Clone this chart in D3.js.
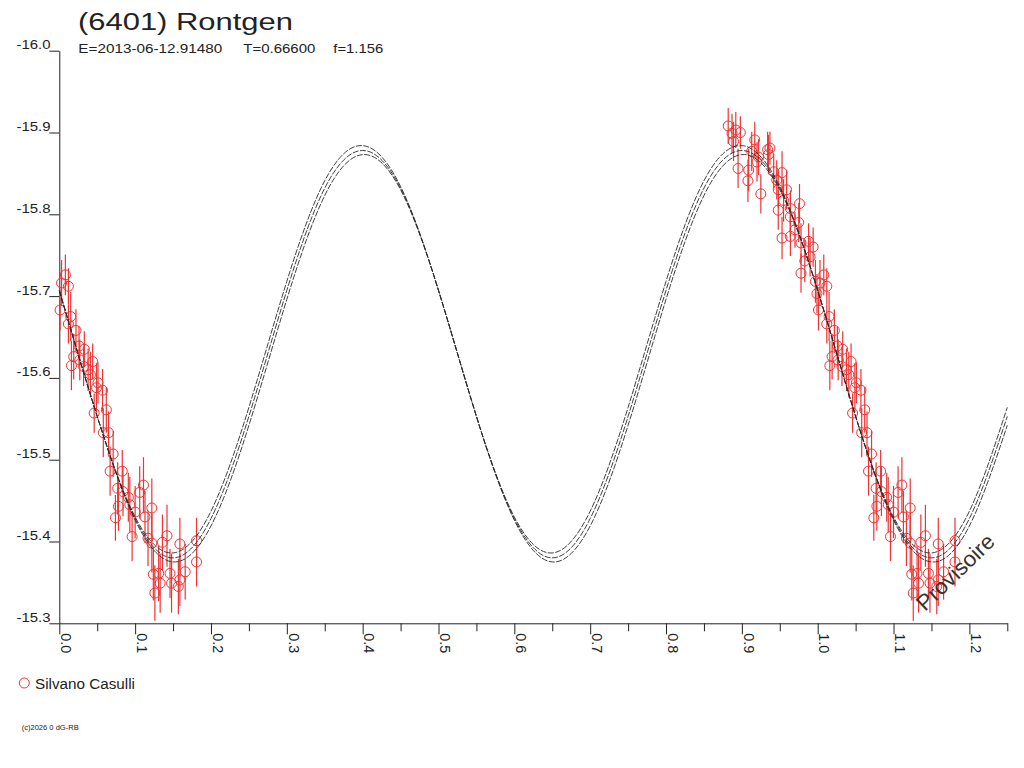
<!DOCTYPE html>
<html>
<head>
<meta charset="utf-8">
<script src="https://cdn.jsdelivr.net/npm/d3@7"></script>
<style>
  html, body { margin: 0; padding: 0; background: #fff; }
  svg { display: block; font-family: "Liberation Sans", Arial, sans-serif; }
</style>
</head>
<body>
<script>
// ---------- DATA ----------
const titleText = "(6401) Rontgen";
const subtitleParts = ["E=2013-06-12.91480", "T=0.66600", "f=1.156"];
const observerName = "Silvano Casulli";
const watermarkText = "Provisoire";
const copyrightText = "(c)2026 0 dG-RB";

// observed phases, magnitudes and errors (phase-folded, repeated at phase+1)
const obsPhase = [
  0.008, 0.003, 0.012, 0.001, 0.015, 0.012, 0.022, 0.026, 0.033, 0.019,
  0.016, 0.027, 0.032, 0.044, 0.038, 0.041, 0.051, 0.057, 0.049, 0.062,
  0.046, 0.058, 0.065, 0.071, 0.067, 0.083, 0.077, 0.084, 0.111, 0.106,
  0.091, 0.078, 0.093, 0.100, 0.122, 0.074, 0.113, 0.096, 0.117, 0.122,
  0.142, 0.136, 0.159, 0.181, 0.181, 0.124, 0.131, 0.133, 0.126, 0.148,
  0.159, 0.166, 0.146, 0.157,
  0.882, 0.887, 0.892, 0.898, 0.889, 0.917, 0.913, 0.934, 0.937, 0.935,
  0.922, 0.895, 0.909, 0.920, 0.908, 0.925, 0.942, 0.953, 0.946, 0.948,
  0.959, 0.955, 0.948, 0.964, 0.976, 0.964, 0.975, 0.970, 0.953, 0.964,
  0.978, 0.988, 0.994, 0.983, 0.990, 0.978, 0.997, 0.999
];
const obsMag = [
  -15.726, -15.716, -15.712, -15.683, -15.675, -15.666, -15.658, -15.639, -15.635, -15.626,
  -15.615, -15.622, -15.614, -15.620, -15.610, -15.604, -15.594, -15.585, -15.588, -15.561,
  -15.557, -15.533, -15.533, -15.507, -15.486, -15.486, -15.465, -15.461, -15.469, -15.460,
  -15.454, -15.443, -15.445, -15.436, -15.441, -15.429, -15.430, -15.406, -15.404, -15.398,
  -15.407, -15.399, -15.397, -15.401, -15.375, -15.360, -15.361, -15.349, -15.337, -15.349,
  -15.353, -15.363, -15.361, -15.345,
  -15.908, -15.899, -15.903, -15.900, -15.889, -15.891, -15.877, -15.879, -15.881, -15.873,
  -15.870, -15.856, -15.854, -15.864, -15.841, -15.825, -15.852, -15.851, -15.842, -15.830,
  -15.830, -15.817, -15.805, -15.807, -15.813, -15.797, -15.790, -15.781, -15.771, -15.773,
  -15.765, -15.767, -15.760, -15.743, -15.748, -15.728, -15.718, -15.703
];
const obsErr = [
  0.025, 0.028, 0.022, 0.025, 0.030, 0.024, 0.026, 0.024, 0.022, 0.028,
  0.030, 0.025, 0.024, 0.022, 0.026, 0.028, 0.025, 0.026, 0.030, 0.028,
  0.024, 0.030, 0.026, 0.028, 0.030, 0.026, 0.032, 0.030, 0.034, 0.032,
  0.030, 0.030, 0.034, 0.032, 0.036, 0.028, 0.032, 0.030, 0.034, 0.036,
  0.038, 0.034, 0.032, 0.028, 0.030, 0.032, 0.034, 0.036, 0.034, 0.036,
  0.032, 0.034, 0.030, 0.034,
  0.022, 0.024, 0.022, 0.020, 0.024, 0.022, 0.024, 0.022, 0.020, 0.024,
  0.022, 0.024, 0.026, 0.024, 0.026, 0.024, 0.022, 0.026, 0.024, 0.022,
  0.024, 0.026, 0.024, 0.022, 0.024, 0.026, 0.024, 0.022, 0.026, 0.024,
  0.024, 0.022, 0.024, 0.026, 0.024, 0.024, 0.026, 0.024
];

const curvePhase = [0.00,0.05,0.10,0.15,0.20,0.25,0.30,0.35,0.40,0.45,0.50,0.55,0.60,
                    0.65,0.70,0.75,0.80,0.85,0.90,0.95,1.00,1.05,1.10,1.15,1.20,1.25];
const curveMid = [-15.707,-15.553,-15.428,-15.380,-15.428,-15.553,-15.707,-15.832,-15.878,-15.832,
                  -15.707,-15.553,-15.428,-15.380,-15.428,-15.553,-15.707,-15.832,-15.878,-15.832,
                  -15.707,-15.553,-15.428,-15.380,-15.428,-15.553];
const curveUpper = [-15.707,-15.553,-15.430,-15.386,-15.437,-15.564,-15.718,-15.841,-15.884,-15.834,
                    -15.707,-15.553,-15.430,-15.386,-15.437,-15.564,-15.718,-15.841,-15.884,-15.834,
                    -15.707,-15.553,-15.430,-15.386,-15.437,-15.564];
const curveLower = [-15.707,-15.553,-15.426,-15.375,-15.419,-15.542,-15.696,-15.823,-15.873,-15.830,
                    -15.707,-15.553,-15.426,-15.375,-15.419,-15.542,-15.696,-15.823,-15.873,-15.830,
                    -15.707,-15.553,-15.426,-15.375,-15.419,-15.542];

// axis ticks
const xMajorTicks = [0.0,0.1,0.2,0.3,0.4,0.5,0.6,0.7,0.8,0.9,1.0,1.1,1.2];
const xMajorLabels = ["0.0","0.1","0.2","0.3","0.4","0.5","0.6","0.7","0.8","0.9","1.0","1.1","1.2"];
const xMinorTicks = [0.05,0.15,0.25,0.35,0.45,0.55,0.65,0.75,0.85,0.95,1.05,1.15,1.25];
const yTicks = [-16.0,-15.9,-15.8,-15.7,-15.6,-15.5,-15.4,-15.3];
const yTickLabels = ["-16.0","-15.9","-15.8","-15.7","-15.6","-15.5","-15.4","-15.3"];

// ---------- DRAW ----------
const W = 1024, H = 768;
const red = "#ee3434", ink = "#222";
const svg = d3.select("body").append("svg").attr("width", W).attr("height", H);

const x = d3.scaleLinear().domain([0, 1.25]).range([59.3, 1007.3]);
const y = d3.scaleLinear().domain([-16.0, -15.3]).range([50.7, 623.3]);

// title
svg.append("text").attr("x", 78).attr("y", 30)
  .attr("font-size", 23).attr("fill", ink)
  .attr("textLength", 215).attr("lengthAdjust", "spacingAndGlyphs")
  .text(titleText);

const subX = [78.3, 243.3, 333.3], subW = [144, 72, 50];
svg.selectAll("text.sub").data(subtitleParts).join("text").attr("class", "sub")
  .attr("x", (d, i) => subX[i]).attr("y", 53.3)
  .attr("font-size", 13.5).attr("fill", ink)
  .attr("textLength", (d, i) => subW[i]).attr("lengthAdjust", "spacingAndGlyphs")
  .text(d => d);

// x axis
const allXTicks = xMajorTicks.concat(xMinorTicks).sort((a, b) => a - b);
const isMajor = v => xMajorTicks.some(m => Math.abs(m - v) < 1e-9);
const xAxis = d3.axisBottom(x).tickValues(allXTicks).tickSize(11).tickSizeOuter(0)
  .tickFormat(v => { const i = xMajorTicks.findIndex(m => Math.abs(m - v) < 1e-9); return i >= 0 ? xMajorLabels[i] : ""; });
const gx = svg.append("g").attr("transform", `translate(0,${y(-15.3)})`).call(xAxis);
gx.select(".domain").attr("stroke", ink);
gx.selectAll(".tick line").attr("stroke", ink).attr("y2", d => isMajor(d) ? 11 : 8);
gx.selectAll(".tick text")
  .attr("transform", "rotate(90)")
  .attr("x", 10).attr("y", -1.2).attr("dy", 0)
  .attr("text-anchor", "start")
  .attr("font-size", 14).attr("fill", ink)
  .attr("font-family", "\"Liberation Sans\", Arial, sans-serif")
  .each(function(d) { if (isMajor(d)) d3.select(this).attr("textLength", 20).attr("lengthAdjust", "spacingAndGlyphs"); });

// y axis
const yAxis = d3.axisLeft(y).tickValues(yTicks).tickSize(10).tickSizeOuter(0)
  .tickFormat((v, i) => yTickLabels[i]);
const gy = svg.append("g").attr("transform", `translate(${x(0)},0)`).call(yAxis);
gy.select(".domain").attr("stroke", ink);
gy.selectAll(".tick line").attr("stroke", ink);
gy.selectAll(".tick text")
  .attr("x", -8.8).attr("y", -2).attr("dy", 0)
  .attr("font-size", 12).attr("fill", ink)
  .attr("font-family", "\"Liberation Sans\", Arial, sans-serif")
  .attr("textLength", 34).attr("lengthAdjust", "spacingAndGlyphs");

// observations (repeated one cycle later)
const pts = [];
obsPhase.forEach((p, i) => {
  [p, p + 1].forEach(pp => {
    if (pp >= 0 && pp <= 1.25) pts.push({ p: pp, m: obsMag[i], e: obsErr[i] });
  });
});
const gd = svg.append("g");
gd.selectAll("line.err").data(pts).join("line").attr("class", "err")
  .attr("x1", d => x(d.p)).attr("x2", d => x(d.p))
  .attr("y1", d => y(d.m - d.e)).attr("y2", d => y(d.m + d.e))
  .attr("stroke", red).attr("stroke-width", 1.2);
gd.selectAll("circle").data(pts).join("circle")
  .attr("cx", d => x(d.p)).attr("cy", d => y(d.m)).attr("r", 5)
  .attr("fill", "none").attr("stroke", red).attr("stroke-width", 1);

// fitted curves
const line = d3.line().x(d => x(d[0])).y(d => y(d[1])).curve(d3.curveNatural);
[curveUpper, curveMid, curveLower].forEach(arr => {
  svg.append("path").datum(curvePhase.map((p, i) => [p, arr[i]]))
    .attr("d", line).attr("fill", "none").attr("stroke", "#2a2a2a")
    .attr("stroke-width", 0.9).attr("stroke-dasharray", "6,1.5");
});

// legend
svg.append("circle").attr("cx", 24.3).attr("cy", 683).attr("r", 5)
  .attr("fill", "none").attr("stroke", red).attr("stroke-width", 1);
svg.append("text").attr("x", 35).attr("y", 688.5)
  .attr("font-size", 14).attr("fill", ink)
  .attr("textLength", 100).attr("lengthAdjust", "spacingAndGlyphs")
  .text(observerName);

// watermark
svg.append("text").attr("transform", "translate(925,612) rotate(-44)")
  .attr("font-size", 22).attr("fill", "#333")
  .attr("textLength", 99).attr("lengthAdjust", "spacingAndGlyphs")
  .text(watermarkText);

// copyright
svg.append("text").attr("x", 21.7).attr("y", 730)
  .attr("font-size", 7).attr("fill", ink)
  .attr("textLength", 57).attr("lengthAdjust", "spacingAndGlyphs")
  .text(copyrightText);
</script>
</body>
</html>
